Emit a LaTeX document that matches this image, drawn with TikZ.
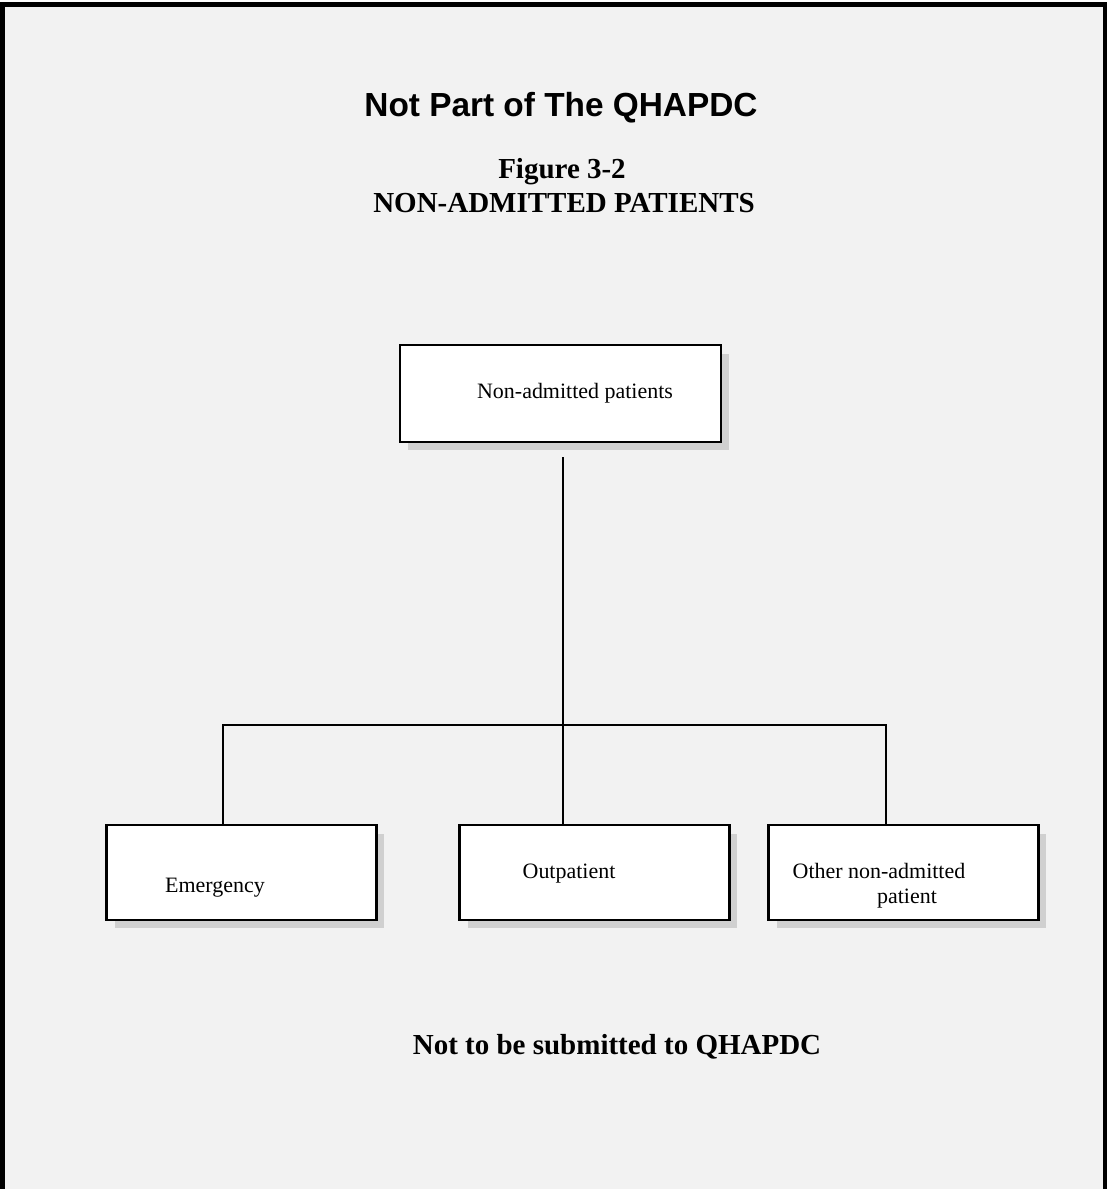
\documentclass[tikz,border=0pt]{standalone}
\usepackage{fontspec}
\setmainfont{Liberation Serif}
\newfontfamily\headfont{Liberation Sans}
\usepackage{tikz}
\usetikzlibrary{shadows}
\usetikzlibrary{calc}

\definecolor{panelgray}{RGB}{242,242,242}
\definecolor{shadowgray}{RGB}{208,208,208}

\tikzset{
    unitbox/.style={draw,fill=white,line width=1.3pt,inner sep=0pt,outer sep=0pt,
        minimum width=5.4cm,minimum height=1.9cm,
        drop shadow={shadow xshift=0.16cm,shadow yshift=-0.17cm,fill=shadowgray,opacity=1}},
    boxtext/.style={anchor=base,inner sep=0pt,font=\fontsize{12.5}{15}\selectfont},
    headtext/.style={anchor=base,inner sep=0pt,font=\fontsize{16.5}{19}\selectfont\bfseries},
    branch/.style={line width=1.15pt}
}

\begin{document}
\begin{tikzpicture}[x=0.02cm,y=-0.02cm]
                \useasboundingbox (0,0) rectangle (1107,1189);
                \fill[white] (0,0) rectangle (1107,1189);
                \fill[panelgray] (0,2) rectangle (1107,1189);
                \fill[black] (0,2) rectangle (1107,7);
                \fill[black] (0,2) rectangle (5,1189);
                \fill[black] (1103,2) rectangle (1107,1189);

                \node[anchor=base,inner sep=0pt,font=\headfont\fontsize{19}{23}\selectfont\bfseries] (title) at (561,117) {Not Part of The QHAPDC};
                \node[headtext] (fignum) at (562,179) {Figure 3-2};
                \node[headtext] (figname) at (564,213) {NON-ADMITTED PATIENTS};

                \node[unitbox,minimum width=6.42cm,minimum height=1.94cm] (nonadm) at (560.5,393.5) {};
                \node[boxtext] (nonadmtext) at (575,398) {Non-admitted patients};

                \node[unitbox] (emerg) at (241.5,872.5) {};
                \node[boxtext] (emergtext) at (215,892) {Emergency};
                \node[unitbox] (outp) at (594.5,872.5) {};
                \node[boxtext] (outptext) at (569,878) {Outpatient};
                \node[unitbox] (other) at (903.5,872.5) {};
                \node[boxtext] (othertexta) at (879,878) {Other non-admitted};
                \node[boxtext] (othertextb) at (907,903) {patient};

                \coordinate (stem) at (563,457);
                \coordinate (joinl) at (223,725);
                \coordinate (joinr) at (886,725);
                \draw[branch] (stem) -- (stem |- outp.north);
                \draw[branch] (emerg.north -| joinl) -- (joinl) -- (joinr) -- (other.north -| joinr);

                \node[headtext] (note) at (617,1054) {Not to be submitted to QHAPDC};
            \end{tikzpicture}
\end{document}
